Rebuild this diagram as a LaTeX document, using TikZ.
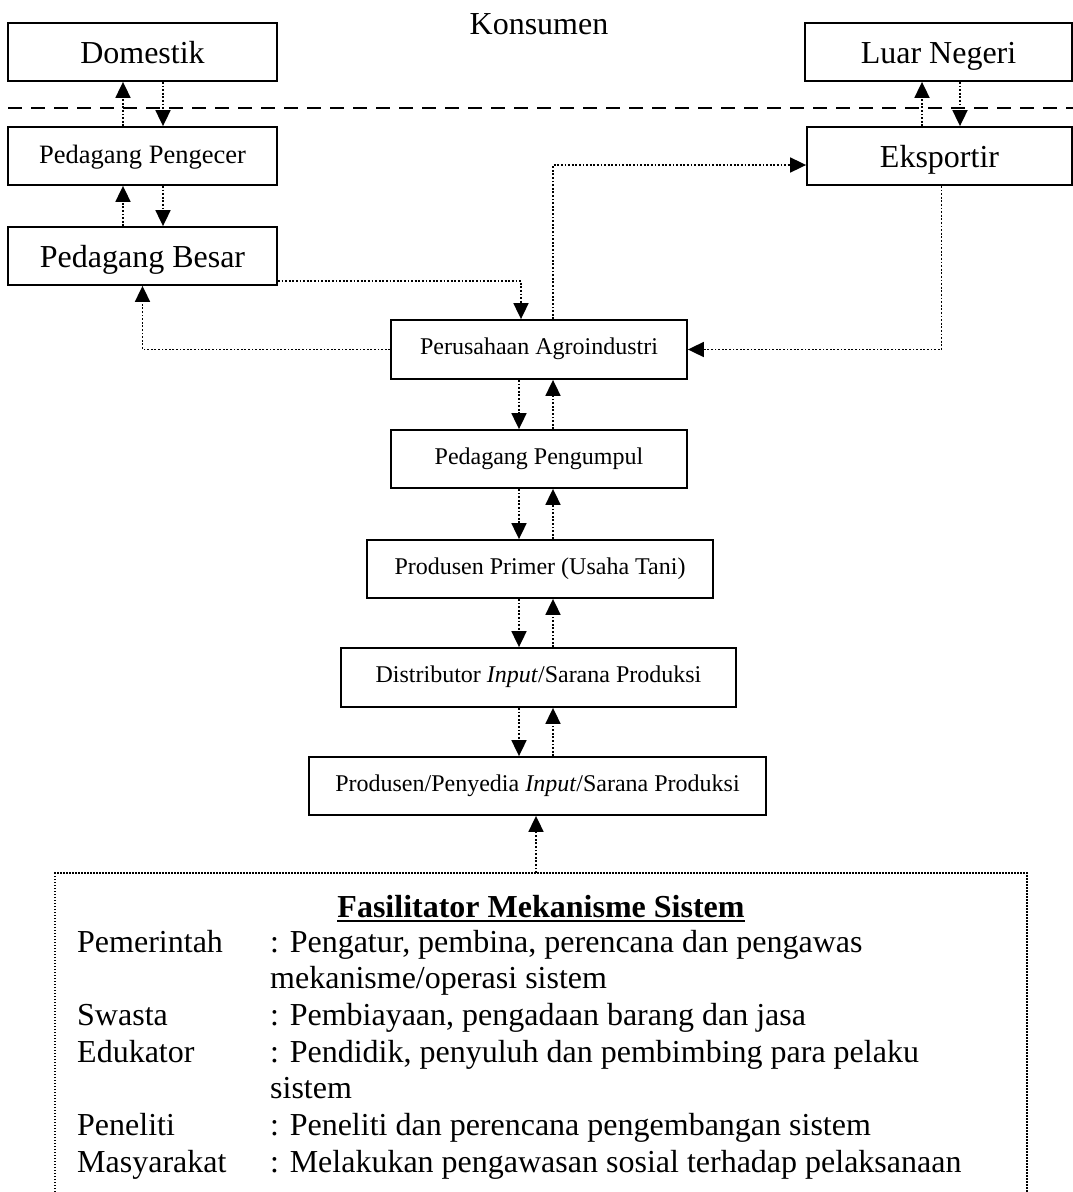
\documentclass[tikz,border=0pt]{standalone}
\usepackage{fontspec}
\setmainfont{Liberation Serif}
\usetikzlibrary{arrows.meta}
\begin{document}
\begin{tikzpicture}[x=1pt,y=-1pt,
  box/.style={draw,line width=1.8pt,minimum height=58pt,inner sep=0pt,anchor=center,text depth=0pt},
  big/.style={font=\fontsize{32}{37}\selectfont,text height=22pt},
  mid/.style={font=\fontsize{26.5}{31}\selectfont,text height=14pt},
  small/.style={font=\fontsize{24}{28}\selectfont,text height=10pt},
  dotln/.style={line width=1.8pt,dash pattern=on 1.8pt off 1.8pt},
  arr/.style={dotln,-{Triangle[width=15pt,length=16pt]}},
  txt/.style={anchor=base west,inner sep=0pt,font=\fontsize{32}{37}\selectfont}]
\path[use as bounding box,fill=white] (0,0) rectangle (1073,1192);

% top row
\node[font=\fontsize{32}{37}\selectfont,inner sep=0pt] (kons) at (539,24) {Konsumen};
\node[box,big,minimum width=269pt] (dom) at (142.5,52) {Domestik};
\node[box,big,minimum width=267pt] (luar) at (938.5,52) {Luar Negeri};
\draw[line width=1.8pt,dash pattern=on 14pt off 9pt] (8,108) -- (1073,108);

\node[box,mid,minimum width=269pt] (pengecer) at (142.5,156) {Pedagang Pengecer};
\node[box,big,minimum width=265pt] (eks) at (939.5,156) {Eksportir};
\node[box,big,minimum width=269pt] (besar) at (142.5,256) {Pedagang Besar};

% central chain
\node[box,small,minimum width=296pt,minimum height=59pt] (perus) at (539,349.5) {Perusahaan Agroindustri};
\node[box,small,minimum width=296pt] (kumpul) at (539,459) {Pedagang Pengumpul};
\node[box,small,minimum width=346pt] (primer) at (540,569) {Produsen Primer (Usaha Tani)};
\node[box,small,minimum width=395pt,minimum height=59pt] (distr) at (538.5,677.5) {Distributor \textit{Input}/Sarana Produksi};
\node[box,small,minimum width=457pt] (penyedia) at (537.5,786) {Produsen/Penyedia \textit{Input}/Sarana Produksi};

% connectors left column
\draw[arr] ([xshift=-19.5pt]pengecer.north) -- ([xshift=-19.5pt]dom.south);
\draw[arr] ([xshift=20.5pt]dom.south) -- ([xshift=20.5pt]pengecer.north);
\draw[arr] ([xshift=-19.5pt]besar.north) -- ([xshift=-19.5pt]pengecer.south);
\draw[arr] ([xshift=20.5pt]pengecer.south) -- ([xshift=20.5pt]besar.north);

% connectors right column
\coordinate (lu) at (922,0);
\coordinate (ld) at (960,0);
\draw[arr] (eks.north -| lu) -- (luar.south -| lu);
\draw[arr] (luar.south -| ld) -- (eks.north -| ld);

% cross connectors
\draw[arr] ([yshift=-25pt]besar.east) -| ([xshift=-18pt]perus.north);
\draw[arr] ([xshift=14pt]perus.north) |- ([yshift=-9pt]eks.west);
\draw[arr] (perus.west) -| (besar.south);
\draw[arr] ([xshift=2pt]eks.south) |- (perus.east);

% vertical chain
\coordinate (dx) at (519,0);
\coordinate (ux) at (553,0);
\foreach \a/\b in {perus/kumpul, kumpul/primer, primer/distr, distr/penyedia} {
  \draw[arr] (\a.south -| dx) -- (\b.north -| dx);
  \draw[arr] (\b.north -| ux) -- (\a.south -| ux);
}

% facilitator box
\coordinate (fastop) at (536,873);
\draw[arr] (fastop) -- (penyedia.south -| fastop);
\draw[line width=1.5pt,dash pattern=on 1.5pt off 1.5pt] (55,1192) -- (55,873) -- (1027,873) -- (1027,1192);

\node[anchor=base,inner sep=0pt,font=\bfseries\fontsize{32}{37}\selectfont] (fastitle) at (541,917) {Fasilitator Mekanisme Sistem};
\draw[line width=2.5pt] ([yshift=-4pt]fastitle.base west) -- ([yshift=-4pt]fastitle.base east);

\node[txt] (l1) at (77,952) {Pemerintah};
\node[txt] (t1) at (270,952) {: Pengatur, pembina, perencana dan pengawas};
\node[txt] (t1b) at (270,988.7) {mekanisme/operasi sistem};
\node[txt] (l2) at (77,1025.4) {Swasta};
\node[txt] (t2) at (270,1025.4) {: Pembiayaan, pengadaan barang dan jasa};
\node[txt] (l3) at (77,1062.1) {Edukator};
\node[txt] (t3) at (270,1062.1) {: Pendidik, penyuluh dan pembimbing para pelaku};
\node[txt] (t3b) at (270,1098.8) {sistem};
\node[txt] (l4) at (77,1135.5) {Peneliti};
\node[txt] (t4) at (270,1135.5) {: Peneliti dan perencana pengembangan sistem};
\node[txt] (l5) at (77,1172.2) {Masyarakat};
\node[txt] (t5) at (270,1172.2) {: Melakukan pengawasan sosial terhadap pelaksanaan};
\end{tikzpicture}
\end{document}
